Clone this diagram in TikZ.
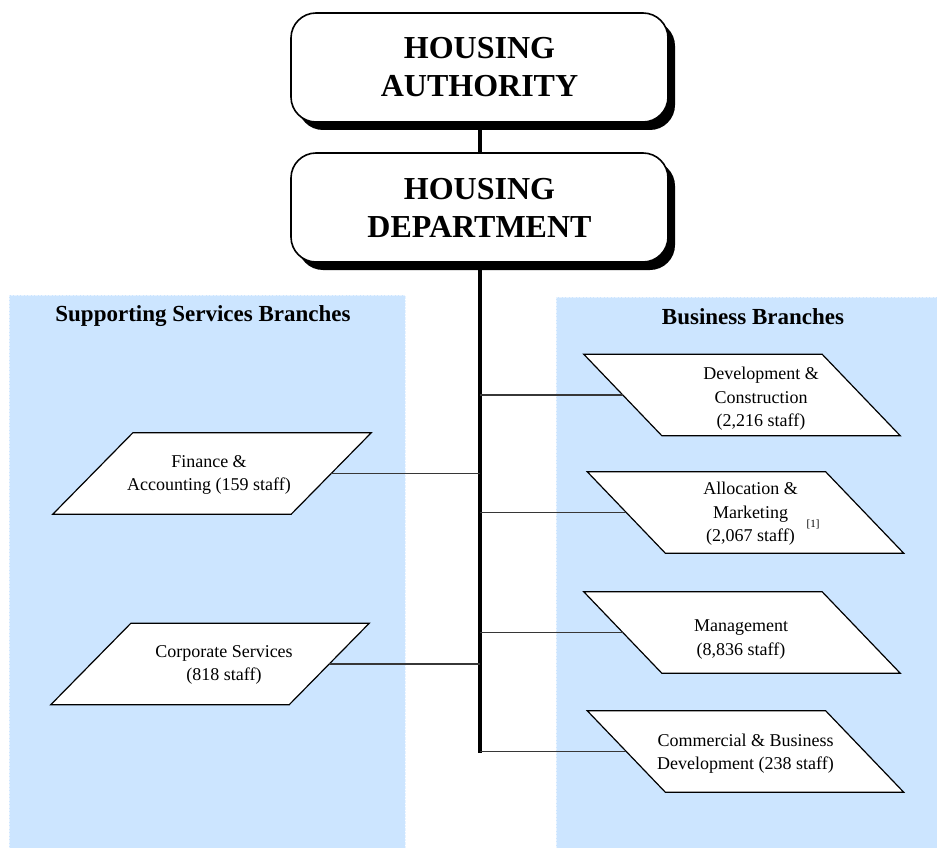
\documentclass[tikz,border=0pt]{standalone}
\usepackage{fontspec}
\setmainfont{Liberation Serif}
\usetikzlibrary{shadows}
\definecolor{panelblue}{RGB}{204,229,255}
\definecolor{linkgray}{RGB}{55,55,55}

\begin{document}
\begin{tikzpicture}
[x=1pt,y=-1pt,
  headDecorate/.style={draw,line width=1.6pt,rounded corners=25pt,fill=white,
    minimum width=377pt,minimum height=109pt,align=center,
    font=\fontsize{32}{38}\selectfont\bfseries,
    drop shadow={shadow xshift=7pt,shadow yshift=-8pt,fill=black,opacity=1}},%
  branchNode/.style={minimum width=238pt,minimum height=81pt,inner sep=0pt},%
  branchDecorate/.style={draw,line width=1.2pt,fill=white,line join=miter},%
  textDecorate/.style={align=center,inner sep=0pt,font=\fontsize{18}{23.5}\selectfont},%
  titleDecorate/.style={font=\fontsize{23}{27}\selectfont\bfseries},%
  panelDecorate/.style={fill=panelblue,draw=white!55!panelblue,densely dotted},%
  trunkDecorate/.style={line width=4pt},%
  linkDecorate/.style={line width=1.4pt,draw=linkgray}]
\useasboundingbox (0,0) rectangle (937,848);
%% panels
\path[panelDecorate] (9,295) rectangle (405,850);
\path[panelDecorate] (556,297) rectangle (939,850);
\node (supTitle) at (203,316) [titleDecorate] {Supporting Services Branches};
\node (busTitle) at (753,317) [titleDecorate] {Business Branches};
%% head boxes
\node (ha) at (479.5,67.5) [headDecorate] {HOUSING\\AUTHORITY};
\node (hd) at (479.5,207.5) [headDecorate] {HOUSING\\DEPARTMENT};
\coordinate (trunkEnd) at (479.5,753);
\draw[trunkDecorate] (ha.south) -- (hd.north);
\draw[trunkDecorate] (hd.south) -- (trunkEnd);
%% supporting services branches
\foreach \name/\x/\y/\dx/\dy/\txt in {
  fin/212/473.5/-3/1.5/{Finance \&\\Accounting (159 staff)},
  corp/210/664/14/1/{Corporate Services\\(818 staff)}}
{
  \node (\name) at (\x,\y) [branchNode] {};
  \draw[branchDecorate] ([xshift=-40pt]\name.south west) -- ([xshift=-40pt]\name.south east)
    -- ([xshift=40pt]\name.north east) -- ([xshift=40pt]\name.north west) -- cycle;
  \node (\name-t) at ([shift={(\dx,\dy)}]\name.center) [textDecorate] {\txt};
  \draw[linkDecorate] (\name.east) -- (trunkEnd |- \name.east);
}
%% business branches
\foreach \name/\x/\y/\dx/\dy/\txt in {
  dev/742/395/19/4/{Development \&\\Construction\\(2,216 staff)},
  alloc/745.5/512.5/5/1.5/{Allocation \&\\Marketing\\(2,067 staff)},
  mgmt/742/632.5/-1/7/{Management\\(8,836 staff)},
  comm/745.5/751.5/0/2/{Commercial \& Business\\Development (238 staff)}}
{
  \node (\name) at (\x,\y) [branchNode] {};
  \draw[branchDecorate] ([xshift=39pt]\name.south west) -- ([xshift=39pt]\name.south east)
    -- ([xshift=-39pt]\name.north east) -- ([xshift=-39pt]\name.north west) -- cycle;
  \node (\name-t) at ([shift={(\dx,\dy)}]\name.center) [textDecorate] {\txt};
  \draw[linkDecorate] (\name.west) -- (trunkEnd |- \name.west);
}
\node (allocNote) at (813,524) [font=\fontsize{11}{13}\selectfont,inner sep=0pt] {[1]};
\end{tikzpicture}
\end{document}
